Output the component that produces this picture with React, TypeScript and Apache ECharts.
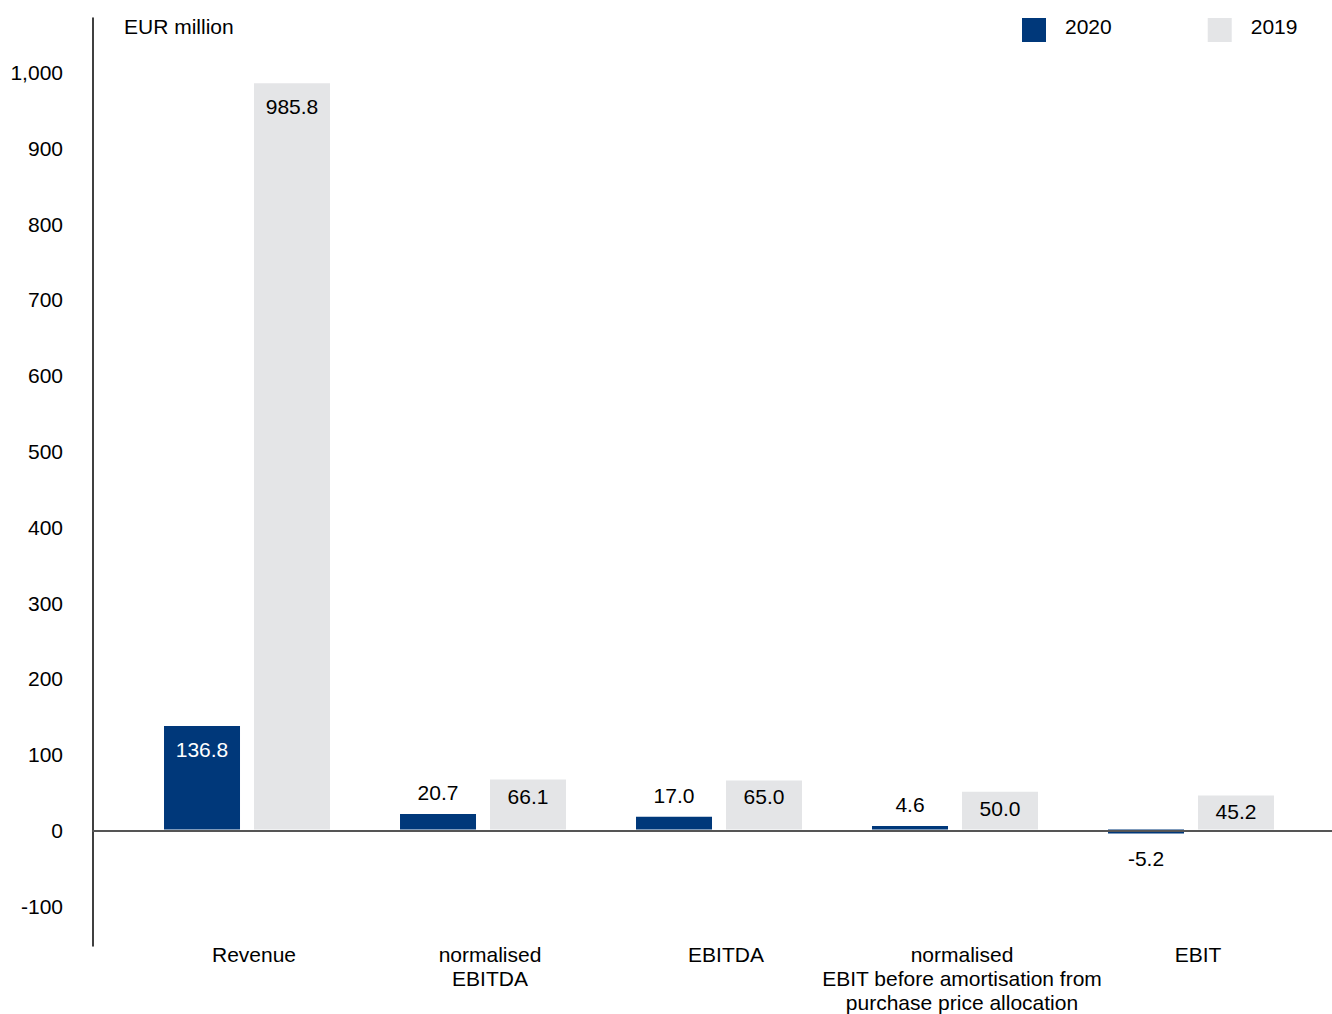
import React, { useEffect, useRef } from "react";
import * as echarts from "echarts";

const categories = [
  "Revenue",
  "normalised\nEBITDA",
  "EBITDA",
  "normalised\nEBIT before amortisation from\npurchase price allocation",
  "EBIT",
];
const seriesNames = ["2020", "2019"];
const values2020 = [136.8, 20.7, 17.0, 4.6, -5.2];
const values2019 = [985.8, 66.1, 65.0, 50.0, 45.2];
const yTickValues = [-100, 0, 100, 200, 300, 400, 500, 600, 700, 800, 900, 1000];
const unitLabel = "EUR million";

const DARK = "#00387a";
const LIGHT = "#e4e5e7";
const FONT = 'Arial, "Liberation Sans", Helvetica, sans-serif';
const FS = 21;

// axis range (pixel-fitted to the reference's grid height)
const Y_MIN = -152.4;
const Y_MAX = 1071.9;

function makeData(values: number[], dark: boolean) {
  return values.map((v) => {
    let label: any;
    if (Math.abs(v) >= 40) {
      label = {
        position: "insideTop",
        distance: v > 100 ? 13 : 6,
        color: dark ? "#ffffff" : "#000000",
      };
    } else if (v >= 0) {
      label = { position: "top", distance: 11, color: "#000000" };
    } else {
      label = { position: "bottom", distance: 14, color: "#000000" };
    }
    return { value: v, label };
  });
}

export default function App() {
  const ref = useRef<HTMLDivElement>(null);

  useEffect(() => {
    if (!ref.current) return;
    const chart = echarts.init(ref.current, undefined, { renderer: "svg" });
    const option: any = {
      animation: false,
      backgroundColor: "#ffffff",
      textStyle: { fontFamily: FONT },
      title: {
        text: unitLabel,
        left: 124,
        top: 16,
        padding: 0,
        textStyle: { fontSize: FS, fontWeight: "normal", color: "#000", fontFamily: FONT },
      },
      legend: {
        left: 1022,
        top: 16,
        padding: 0,
        itemWidth: 24,
        itemHeight: 24,
        itemGap: 96,
        icon: "rect",
        data: seriesNames,
        formatter: (name: string) => `{t|${name}}`,
        textStyle: {
          rich: {
            t: {
              fontSize: FS,
              fontFamily: FONT,
              color: "#000",
              padding: [0, 0, 7, 14],
            },
          },
        },
      },
      grid: [
        { left: 93, right: 0, top: 18, bottom: 68 },
        { left: 129, right: 23, top: 18, bottom: 68 },
      ],
      xAxis: [
        {
          gridIndex: 0,
          type: "category",
          data: categories,
          z: 5,
          axisLine: { show: true, onZero: true, lineStyle: { color: "#555555", width: 2 } },
          axisTick: { show: false },
          axisLabel: { show: false },
          splitLine: { show: false },
        },
        {
          gridIndex: 1,
          type: "category",
          data: categories,
          position: "bottom",
          axisLine: { show: false, onZero: false },
          axisTick: { show: false },
          splitLine: { show: false },
          axisLabel: {
            interval: 0,
            margin: -3,
            fontSize: FS,
            lineHeight: 24,
            color: "#000",
            fontFamily: FONT,
            align: "center",
            padding: [0, 0, 0, 14],
          },
        },
      ],
      yAxis: [
        {
          gridIndex: 0,
          type: "value",
          min: Y_MIN,
          max: Y_MAX,
          axisLine: { show: true, lineStyle: { color: "#000000", width: 1.5 } },
          axisTick: { show: false, customValues: yTickValues },
          splitLine: { show: false },
          axisLabel: {
            customValues: yTickValues,
            margin: 30,
            fontSize: FS,
            color: "#000",
            fontFamily: FONT,
            formatter: (v: number) => Number(v).toLocaleString("en-US"),
          },
        },
        {
          gridIndex: 1,
          type: "value",
          min: Y_MIN,
          max: Y_MAX,
          show: false,
          splitLine: { show: false },
        },
      ],
      series: [
        {
          name: seriesNames[0],
          type: "bar",
          xAxisIndex: 1,
          yAxisIndex: 1,
          barWidth: 76,
          barGap: "18.4%",
          itemStyle: { color: DARK },
          label: {
            show: true,
            fontSize: FS,
            fontFamily: FONT,
            formatter: (p: any) => Number(p.value).toFixed(1),
          },
          data: makeData(values2020, true),
        },
        {
          name: seriesNames[1],
          type: "bar",
          xAxisIndex: 1,
          yAxisIndex: 1,
          barWidth: 76,
          barGap: "18.4%",
          itemStyle: { color: LIGHT },
          label: {
            show: true,
            fontSize: FS,
            fontFamily: FONT,
            formatter: (p: any) => Number(p.value).toFixed(1),
          },
          data: makeData(values2019, false),
        },
      ],
    };
    chart.setOption(option);
    return () => {
      chart.dispose();
    };
  }, []);

  return (
    <div
      ref={ref}
      style={{ position: "absolute", left: 0, top: 0, width: 1332, height: 1014 }}
    />
  );
}
